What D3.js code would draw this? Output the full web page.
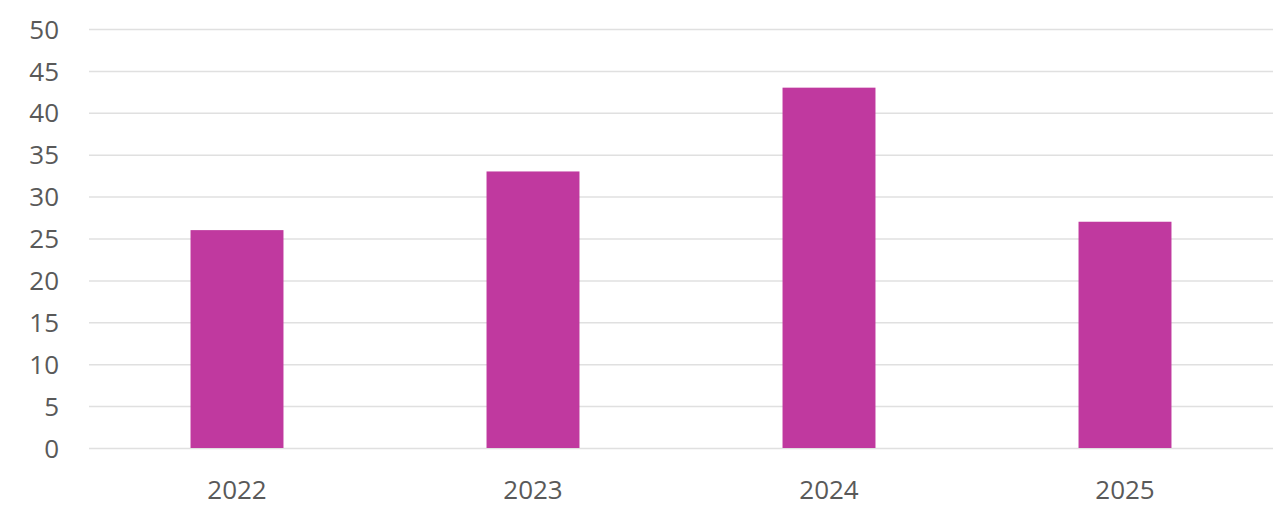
<!DOCTYPE html>
<html><head><meta charset="utf-8">
<script src="https://cdn.jsdelivr.net/npm/d3@7"></script>
<style>body{margin:0;background:#fff}svg text{font-family:"Open Sans","Noto Sans",sans-serif}</style>
</head><body>
<svg id="c" width="1273" height="517"></svg>
<script>
const categories = ["2022","2023","2024","2025"];
const values = [26,33,43,27];
const yTicks = [0,5,10,15,20,25,30,35,40,45,50];

const svg = d3.select("#c");
const mLeft = 89, mRight = 1273, mTop = 29, mBottom = 448;
const x = d3.scaleBand().domain(categories).range([mLeft,mRight]).paddingInner(0.686).paddingOuter(0.343);
const y = d3.scaleLinear().domain([0,50]).range([mBottom,mTop]);

svg.append("g").selectAll("line").data(yTicks).join("line")
  .attr("x1",mLeft).attr("x2",mRight).attr("y1",d=>y(d)+0.5).attr("y2",d=>y(d)+0.5)
  .attr("stroke","#e0e0e0").attr("stroke-width",1.5);

svg.append("g").selectAll("rect").data(values).join("rect")
  .attr("x",(d,i)=>x(categories[i])).attr("width",x.bandwidth())
  .attr("y",d=>y(d)).attr("height",d=>y(0)-y(d)).attr("fill","#C0399F");

const yAxis = d3.axisLeft(y).tickValues(yTicks).tickSize(0).tickPadding(0);
const gy = svg.append("g").attr("transform","translate(59,0)").call(yAxis);
gy.select(".domain").remove();
gy.selectAll("text").attr("fill","#595959").style("font-size","26px").attr("dy","0.35em");

const xAxis = d3.axisBottom(x).tickSize(0).tickPadding(0);
const gx = svg.append("g").attr("transform","translate(0,490)").call(xAxis);
gx.select(".domain").remove();
gx.selectAll("text").attr("fill","#595959").style("font-size","26px").attr("dy","0.35em");
</script>
</body></html>
